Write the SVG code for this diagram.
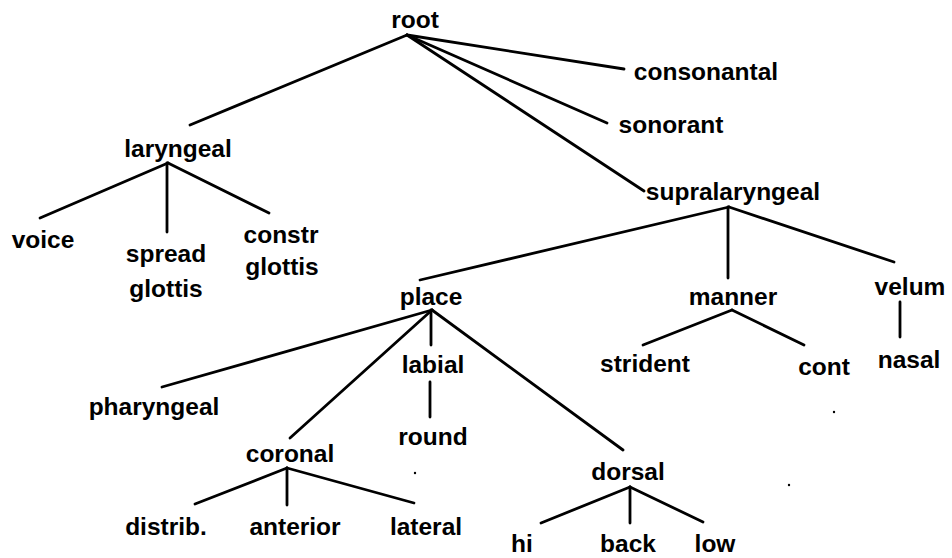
<svg xmlns="http://www.w3.org/2000/svg" width="952" height="558" viewBox="0 0 952 558">
  <style>
    .lbl { font-family: "Liberation Sans", Arial, sans-serif; font-weight: bold; font-size: 24.5px; fill: #000; text-anchor: middle; }
    .edge { stroke: #000; stroke-width: 2.8; stroke-linecap: round; fill: none; }
  </style>
  <rect width="952" height="558" fill="#fff"/>

  <!-- tree branches -->
  <g id="connectors" class="edge">
    <!-- root -->
    <line x1="407" y1="35" x2="190" y2="125"/>
    <line x1="407" y1="35" x2="624" y2="69"/>
    <line x1="407" y1="35" x2="607" y2="123"/>
    <line x1="407" y1="35" x2="644" y2="191"/>
    <!-- laryngeal -->
    <line x1="168" y1="163" x2="40" y2="218"/>
    <line x1="167" y1="163" x2="167" y2="232"/>
    <line x1="168" y1="163" x2="269" y2="213"/>
    <!-- supralaryngeal -->
    <line x1="729" y1="207" x2="420" y2="280"/>
    <line x1="728" y1="207" x2="728" y2="278"/>
    <line x1="729" y1="207" x2="894" y2="262"/>
    <!-- place -->
    <line x1="432" y1="310" x2="162" y2="387"/>
    <line x1="432" y1="310" x2="290" y2="438"/>
    <line x1="431" y1="310" x2="431" y2="345"/>
    <line x1="432" y1="310" x2="623" y2="450"/>
    <line x1="430" y1="382" x2="430" y2="417"/>
    <!-- manner / velum -->
    <line x1="732" y1="310" x2="643" y2="345"/>
    <line x1="732" y1="310" x2="804" y2="345"/>
    <line x1="900" y1="302" x2="900" y2="337"/>
    <!-- coronal -->
    <line x1="287" y1="468" x2="195" y2="504"/>
    <line x1="287" y1="468" x2="287" y2="505"/>
    <line x1="287" y1="468" x2="414" y2="503"/>
    <!-- dorsal -->
    <line x1="630" y1="487" x2="541" y2="523"/>
    <line x1="630" y1="487" x2="630" y2="523"/>
    <line x1="630" y1="487" x2="703" y2="522"/>
  </g>

  <g id="root"><text class="lbl" x="415" y="28">root</text></g>
  <g id="consonantal"><text class="lbl" x="706" y="80">consonantal</text></g>
  <g id="sonorant"><text class="lbl" x="671" y="133">sonorant</text></g>
  <g id="laryngeal"><text class="lbl" x="178" y="157">laryngeal</text></g>
  <g id="supralaryngeal"><text class="lbl" x="733" y="200">supralaryngeal</text></g>
  <g id="voice"><text class="lbl" x="43" y="248">voice</text></g>
  <g id="spread-glottis"><text class="lbl" x="166" y="262">spread</text><text class="lbl" x="166" y="297">glottis</text></g>
  <g id="constr-glottis"><text class="lbl" x="281" y="243">constr</text><text class="lbl" x="282" y="275">glottis</text></g>
  <g id="place"><text class="lbl" x="431" y="305">place</text></g>
  <g id="manner"><text class="lbl" x="733" y="305">manner</text></g>
  <g id="velum"><text class="lbl" x="910" y="295">velum</text></g>
  <g id="strident"><text class="lbl" x="645" y="372">strident</text></g>
  <g id="cont"><text class="lbl" x="824" y="375">cont</text></g>
  <g id="nasal"><text class="lbl" x="909" y="368">nasal</text></g>
  <g id="labial"><text class="lbl" x="433" y="373">labial</text></g>
  <g id="pharyngeal"><text class="lbl" x="154" y="415">pharyngeal</text></g>
  <g id="round"><text class="lbl" x="433" y="445">round</text></g>
  <g id="coronal"><text class="lbl" x="290" y="462">coronal</text></g>
  <g id="dorsal"><text class="lbl" x="628" y="480">dorsal</text></g>
  <g id="distrib"><text class="lbl" x="166" y="535">distrib.</text></g>
  <g id="anterior"><text class="lbl" x="295" y="535">anterior</text></g>
  <g id="lateral"><text class="lbl" x="426" y="535">lateral</text></g>
  <g id="hi"><text class="lbl" x="522" y="552">hi</text></g>
  <g id="back"><text class="lbl" x="628" y="552">back</text></g>
  <g id="low"><text class="lbl" x="715" y="552">low</text></g>

  <!-- stray print specks -->
  <g fill="#000">
    <circle cx="415" cy="473" r="1.2"/>
    <circle cx="834" cy="412" r="1.2"/>
    <circle cx="789" cy="485" r="1.2"/>
  </g>
</svg>
